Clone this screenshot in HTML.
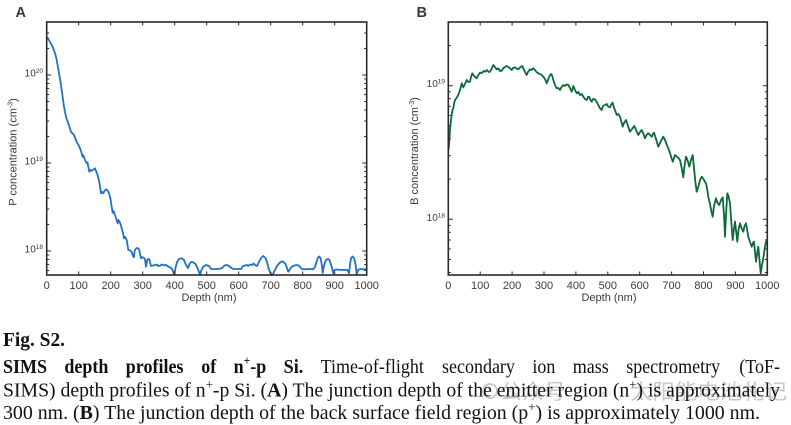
<!DOCTYPE html>
<html>
<head>
<meta charset="utf-8">
<style>
  html, body { margin:0; padding:0; background:#fff; }
  body { width:791px; height:425px; overflow:hidden; }
  svg { display:block; }
  .tk { font-family:"Liberation Sans", Arial, sans-serif; fill:#3a3a3a; }
  .cap { font-family:"Liberation Serif", "Times New Roman", serif; fill:#111; font-size:20px; }
</style>
</head>
<body>
<svg width="791" height="425" viewBox="0 0 791 425" xmlns="http://www.w3.org/2000/svg">
  <rect width="791" height="425" fill="#fff"/>

  <!-- ================= PANEL A ================= -->
  <text class="tk" x="15.5" y="17" font-size="14.5" font-weight="bold" fill="#222">A</text>

  <polyline fill="none" stroke="#2272c3" stroke-width="1.8" stroke-linejoin="round" points="
47.3,37.3 49.5,41 51.7,45 53.5,49 55,53.3 56.3,58 57.3,63.3 58.3,69 59.3,75 60.5,82 61.7,90 62.8,98 64,106.7 65,112 66,116.7 67,120 68.3,123.3 69.5,127 71,131.7 72.5,133.5 74,135 75.5,139 77.3,143.3 78.5,145 80,148.3 81.3,152 82.7,156.7 83.5,155.5 85,160 86.5,163 87.5,162.5 88.3,166.7 89.3,171.7 90.5,170 91.7,170.7 93,170 95,168.3 96,171 97.3,174 98.3,178 99.3,181.7 100.2,188 101,193.3 102,192 103.3,193.3 104.5,191 106,189.3 107,190 108.3,191.7 109.5,195 110.7,200 111.5,206 112.7,212.7 113.5,211 115,215 116,218 117.7,223.3 118.5,220 120,222.7 121,226 121.7,228.3 123,233 124,238.3 125,237 126.7,240 127.5,245 128.3,250 130,250.5 131.7,251.7 133,256 134,257.3 134.5,252 135,250 136.5,248 137.3,248.3 138.5,248.5 139.3,250 140,254 141,258.3 142,257 142.7,257.3 144,258 145,259.3 146,266.7 147.3,260 148,259 149.3,259.3 150.2,263 151,266 153,265.5 155,265 157,264.5 158,266 160,265.7 162,264.5 163.3,265 165,265.5 166,264.8 168.3,266.7 170,267 172,269 174.3,275
175.5,268 177,262 179,259 181.7,258.3 184,260 186,265 188,268 189.5,264 191,262 193.3,262.3 195.5,264 197.5,268 199,272 200,275 201,271 203,267 206,265 209,266 211,269 215,269 219,269 222,268 224.5,265.5 226.7,265 229,266 231.5,268 233,269 237,269 241,269 243,266 245,265.5 247,265 248,266 250,264.5 252,265 253.5,263.5 255,265 257,266 259,262 261,258 263.3,256 265.5,258 267,262 268.5,268 270,272 271.7,275 273,274 275,270 277,266 279.5,263 281.5,261.5 283.3,261.7 285.5,264 287,268 288.3,271.7 289.5,270 291,267.5 293,266 295,265.3 296.7,265 298.5,265.5 300,267 302,269 305,269.3 309,269 313,269.3 315,267 316.5,262 318,257.5 319.5,256.5 320.8,259 322,266 322.7,273 323.5,268 325,262 326.5,259.5 328,259 329.5,260 330.5,263 332,268 333.3,273.3 334.5,270 337,269.5 341,270 345,269.8 347.5,270 349,273.3 350,265 351,258 352.5,256.5 354,258 355.5,264 356.7,275 358,270 360,269 363,269.3 366.7,269"/>

  <rect x="46.7" y="22" width="320" height="253" fill="none" stroke="#2a2a2a" stroke-width="1.6"/>

  <g stroke="#2a2a2a" stroke-width="1">
    <path d="M78.7,275v-3.5M110.7,275v-3.5M142.7,275v-3.5M174.7,275v-3.5M206.7,275v-3.5M238.7,275v-3.5M270.7,275v-3.5M302.7,275v-3.5M334.7,275v-3.5
             M78.7,22v3.5M110.7,22v3.5M142.7,22v3.5M174.7,22v3.5M206.7,22v3.5M238.7,22v3.5M270.7,22v3.5M302.7,22v3.5M334.7,22v3.5"/>
    <path d="M46.7,251h4.5M46.7,163h4.5M46.7,75h4.5M366.7,251h-4.5M366.7,163h-4.5M366.7,75h-4.5"/>
    <path d="M46.7,270.5h2.5M46.7,264.6h2.5M46.7,259.5h2.5M46.7,255h2.5M46.7,224.5h2.5M46.7,209h2.5M46.7,198h2.5M46.7,189.5h2.5M46.7,182.5h2.5M46.7,176.6h2.5M46.7,171.5h2.5M46.7,167h2.5M46.7,136.5h2.5M46.7,121h2.5M46.7,110h2.5M46.7,101.5h2.5M46.7,94.5h2.5M46.7,88.6h2.5M46.7,83.5h2.5M46.7,79h2.5M46.7,48.5h2.5M46.7,33h2.5
             M366.7,270.5h-2.5M366.7,264.6h-2.5M366.7,259.5h-2.5M366.7,255h-2.5M366.7,224.5h-2.5M366.7,209h-2.5M366.7,198h-2.5M366.7,189.5h-2.5M366.7,182.5h-2.5M366.7,176.6h-2.5M366.7,171.5h-2.5M366.7,167h-2.5M366.7,136.5h-2.5M366.7,121h-2.5M366.7,110h-2.5M366.7,101.5h-2.5M366.7,94.5h-2.5M366.7,88.6h-2.5M366.7,83.5h-2.5M366.7,79h-2.5M366.7,48.5h-2.5M366.7,33h-2.5"/>
  </g>

  <g class="tk" font-size="11" text-anchor="middle">
    <text x="46.7" y="289">0</text>
    <text x="78.7" y="289">100</text>
    <text x="110.7" y="289">200</text>
    <text x="142.7" y="289">300</text>
    <text x="174.7" y="289">400</text>
    <text x="206.7" y="289">500</text>
    <text x="238.7" y="289">600</text>
    <text x="270.7" y="289">700</text>
    <text x="302.7" y="289">800</text>
    <text x="334.7" y="289">900</text>
    <text x="366.7" y="289">1000</text>
  </g>
  <g class="tk" font-size="10" text-anchor="end">
    <text x="43" y="76.5">10<tspan font-size="6.5" dy="-3.5">20</tspan></text>
    <text x="43" y="164.5">10<tspan font-size="6.5" dy="-3.5">19</tspan></text>
    <text x="43" y="252.5">10<tspan font-size="6.5" dy="-3.5">18</tspan></text>
  </g>
  <text class="tk" font-size="11" text-anchor="middle" x="209" y="301">Depth (nm)</text>
  <text class="tk" font-size="11" text-anchor="middle" transform="translate(16.5,152) rotate(-90)">P concentration (cm<tspan font-size="7" dy="-4">-3</tspan><tspan dy="4">)</tspan></text>

  <!-- ================= PANEL B ================= -->
  <text class="tk" x="416.5" y="17" font-size="14.5" font-weight="bold" fill="#222">B</text>

  <polyline fill="none" stroke="#0b6a38" stroke-width="1.8" stroke-linejoin="round" points="
448.5,150 449,145 449.7,135 450,130 451,120 451.7,115 452.5,110 453.3,108.3 454.2,103 455,100 456.5,98 458.3,95 460,90 461.7,83.3 463.3,87.3 465,84 466.7,80 468.3,82 470,81.7 471,77 472.3,73.3 474,76 476.7,78.3 478.3,75 480,72.7 482,73 483.5,71 485,71.7 487,70 488.5,72 490,71.7 491.5,69 493.3,65 495,67 496.7,69.3 498.5,68.5 500,71 501.7,70.7 503.5,68 505,67 506.7,66 508.3,67 510,68.3 511.7,70 513,68 515,67.3 516.5,68.5 518.3,69.3 520,67.5 522.3,66 524,70 525.5,73 526.7,75 528,72 530,69.3 531.5,70 533.3,68.3 535,70 536.5,72 538.3,73.3 540,74 541.7,75 543.3,76.7 545,79 546.7,83.3 548,80 549.5,76 551,74 552.3,76 553.3,80 555,85 556.7,88.3 558.3,88 560,90 561.5,87 563.3,85 565,86 566.5,84.5 568.3,85 570,88 571.7,91.7 572.5,89 573.3,86 575,90 576.7,93.3 578.3,92 580,95 581.7,94 583.3,96.7 585,99 586.7,100 588,97 589,96.7 590.5,100 591.7,101.7 593,99 595,99.3 596.7,102 598.3,105 600,108.3 601.7,110 603,106 605,105 606.7,104 608.3,106.7 610,107.3 611.5,104 612.7,102.7 614,108 615,110 616.7,115 618.3,114 620,116.7 621.5,122 622.7,126.7 624,123 626,120 628,126 630,131.7 632,129 634.3,126 636.5,131 638.3,135 640,132 641.7,130 643.5,134 645,138.3 646.5,135 648.3,133.3 650,135 651.7,136.7 653,134 654,132.7 656,139 658.3,146.7 660.5,142 663.3,136.7 665,140 666.5,144 668.3,148.3 670,153 671.5,158 672.7,161.7 674,158 675,155 677,157 678.5,158 680,160 681.5,167 683.3,177.3 684.5,166 686,156.7 687.5,160 689.3,166.7 691,160 692.7,155 694,168 695.5,183 696.7,191.7 698.5,186 700,180 701.7,176.7 703.5,179 705,182 706,183.3 707.3,190 708.3,196.7 710,204 711.5,212 712.7,216.7 714,206 716,198.3 717.5,203 719.3,205 721,200 722.7,197.3 724,215 725,236.7 726,215 727.3,193.3 728.5,196 730,203.3 731.3,222 732.7,240 733.8,230 735,221.7 736.2,232 737.3,241.7 738.5,230 740,223.3 741.5,228 743.3,231.7 744.5,226 746,223.3 747.2,230 748.3,236.7 750,242 751.7,246.7 753,243 754,241.7 755,252 756,261.7 757.2,253 758.3,246.7 759.5,260 760.7,273.3 762,265 763.3,258.3 764.6,249 766,241.7 767,244"/>

  <rect x="448.3" y="22" width="319" height="253" fill="none" stroke="#2a2a2a" stroke-width="1.6"/>

  <g stroke="#2a2a2a" stroke-width="1">
    <path d="M480.2,275v-3.5M512.1,275v-3.5M544,275v-3.5M575.9,275v-3.5M607.8,275v-3.5M639.7,275v-3.5M671.6,275v-3.5M703.5,275v-3.5M735.4,275v-3.5
             M480.2,22v3.5M512.1,22v3.5M544,22v3.5M575.9,22v3.5M607.8,22v3.5M639.7,22v3.5M671.6,22v3.5M703.5,22v3.5M735.4,22v3.5"/>
    <path d="M448.3,219.3h4.5M448.3,85.7h4.5M767.3,219.3h-4.5M767.3,85.7h-4.5"/>
    <path d="M448.3,272.5h2.5M448.3,259.5h2.5M448.3,248.9h2.5M448.3,240h2.5M448.3,232.2h2.5M448.3,225.4h2.5M448.3,179.1h2.5M448.3,155.6h2.5M448.3,138.9h2.5M448.3,125.9h2.5M448.3,115.4h2.5M448.3,106.4h2.5M448.3,98.65h2.5M448.3,91.8h2.5M448.3,45.5h2.5
             M767.3,272.5h-2.5M767.3,259.5h-2.5M767.3,248.9h-2.5M767.3,240h-2.5M767.3,232.2h-2.5M767.3,225.4h-2.5M767.3,179.1h-2.5M767.3,155.6h-2.5M767.3,138.9h-2.5M767.3,125.9h-2.5M767.3,115.4h-2.5M767.3,106.4h-2.5M767.3,98.65h-2.5M767.3,91.8h-2.5M767.3,45.5h-2.5"/>
  </g>

  <g class="tk" font-size="11" text-anchor="middle">
    <text x="448.3" y="289">0</text>
    <text x="480.2" y="289">100</text>
    <text x="512.1" y="289">200</text>
    <text x="544" y="289">300</text>
    <text x="575.9" y="289">400</text>
    <text x="607.8" y="289">500</text>
    <text x="639.7" y="289">600</text>
    <text x="671.6" y="289">700</text>
    <text x="703.5" y="289">800</text>
    <text x="735.4" y="289">900</text>
    <text x="767.3" y="289">1000</text>
  </g>
  <g class="tk" font-size="10" text-anchor="end">
    <text x="445" y="87.2">10<tspan font-size="6.5" dy="-3.5">19</tspan></text>
    <text x="445" y="220.8">10<tspan font-size="6.5" dy="-3.5">18</tspan></text>
  </g>
  <text class="tk" font-size="11" text-anchor="middle" x="609" y="301">Depth (nm)</text>
  <text class="tk" font-size="11" text-anchor="middle" transform="translate(418,151) rotate(-90)">B concentration (cm<tspan font-size="7" dy="-4">-3</tspan><tspan dy="4">)</tspan></text>

  <!-- ================= WATERMARK ================= -->
  <g fill="#c9c9c9" font-family="'Liberation Sans','Noto Sans CJK SC',sans-serif" font-size="21">
    <circle cx="490" cy="391" r="7" fill="none" stroke="#c9c9c9" stroke-width="2"/>
    <text x="500" y="399" textLength="66" lengthAdjust="spacingAndGlyphs">公众号</text>
    <text x="600" y="399">·</text>
    <text x="630" y="399" textLength="157" lengthAdjust="spacingAndGlyphs">太阳能电池札记</text>
  </g>

  <!-- ================= CAPTION ================= -->
  <g class="cap">
    <text x="3" y="346" font-weight="bold" textLength="62" lengthAdjust="spacingAndGlyphs">Fig. S2.</text>

    <g transform="scale(0.9,1)">
      <g font-weight="bold">
        <text x="3.33" y="373">SIMS</text>
        <text x="71.56" y="373">depth</text>
        <text x="139.78" y="373">profiles</text>
        <text x="223.56" y="373">of</text>
        <text x="259.56" y="373">n<tspan font-size="13" dy="-8">+</tspan><tspan dy="8">-p</tspan></text>
        <text x="315.22" y="373">Si.</text>
      </g>
      <text x="356.22" y="373">Time-of-flight</text>
      <text x="491.11" y="373">secondary</text>
      <text x="591.56" y="373">ion</text>
      <text x="636.44" y="373">mass</text>
      <text x="695.78" y="373">spectrometry</text>
      <text x="866.67" y="373" text-anchor="end">(ToF-</text>
    </g>

    <text x="3" y="396.5" textLength="777" lengthAdjust="spacingAndGlyphs">SIMS) depth profiles of n<tspan font-size="13" dy="-8">+</tspan><tspan dy="8">-p Si. (</tspan><tspan font-weight="bold">A</tspan>) The junction depth of the emitter region (n<tspan font-size="13" dy="-8">+</tspan><tspan dy="8">) is approximately</tspan></text>

    <text x="3" y="419" textLength="757" lengthAdjust="spacingAndGlyphs">300 nm. (<tspan font-weight="bold">B</tspan>) The junction depth of the back surface field region (p<tspan font-size="13" dy="-8">+</tspan><tspan dy="8">) is approximately 1000 nm.</tspan></text>
  </g>
</svg>
</body>
</html>
